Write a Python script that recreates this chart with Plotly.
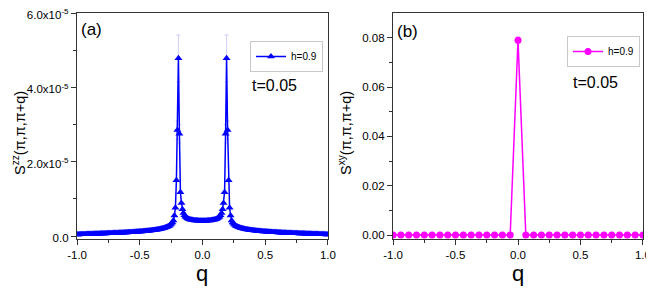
import plotly.graph_objects as go

# ---------------- data ----------------
# panel (a): q grid -1..1, step 0.008 (251 points); values in units of 1e-5
q_a_start, q_a_step, n_a = -1.0, 0.008, 251
szz_left = [  # q = -1.000 ... 0.000
    0.041, 0.042, 0.043, 0.044, 0.045, 0.046, 0.047, 0.048, 0.049, 0.050,
    0.051, 0.052, 0.053, 0.054, 0.055, 0.056, 0.057, 0.058, 0.059, 0.060,
    0.061, 0.062, 0.063, 0.064, 0.065, 0.066, 0.067, 0.068, 0.069, 0.070,
    0.071, 0.072, 0.073, 0.074, 0.075, 0.077, 0.078, 0.079, 0.080, 0.081,
    0.082, 0.084, 0.085, 0.086, 0.088, 0.089, 0.090, 0.092, 0.093, 0.095,
    0.096, 0.098, 0.099, 0.101, 0.103, 0.104, 0.106, 0.108, 0.110, 0.112,
    0.114, 0.116, 0.118, 0.120, 0.122, 0.124, 0.127, 0.129, 0.132, 0.134,
    0.137, 0.140, 0.143, 0.146, 0.149, 0.153, 0.156, 0.160, 0.164, 0.168,
    0.173, 0.178, 0.183, 0.189, 0.195, 0.202, 0.209, 0.217, 0.226, 0.236,
    0.248, 0.262, 0.279, 0.300, 0.328, 0.365, 0.420, 0.550, 0.760, 1.500,
    2.850, 4.780, 2.750, 1.180, 0.890, 0.720, 0.620, 0.560, 0.520, 0.495,
    0.475, 0.460, 0.450, 0.440, 0.435, 0.430, 0.425, 0.420, 0.418, 0.416,
    0.414, 0.412, 0.411, 0.410, 0.410, 0.410,
]
szz_right = [  # q = 0.008 ... 1.000
    0.410, 0.410, 0.411, 0.412, 0.414, 0.416, 0.418, 0.420, 0.425, 0.430,
    0.435, 0.440, 0.450, 0.460, 0.475, 0.495, 0.520, 0.560, 0.620, 0.720,
    0.890, 1.180, 2.750, 4.780, 2.850, 1.500, 0.760, 0.550, 0.420, 0.365,
    0.328, 0.300, 0.279, 0.262, 0.248, 0.236, 0.226, 0.217, 0.209, 0.202,
    0.195, 0.189, 0.183, 0.178, 0.173, 0.168, 0.164, 0.160, 0.156, 0.153,
    0.149, 0.146, 0.143, 0.140, 0.137, 0.134, 0.132, 0.129, 0.127, 0.124,
    0.122, 0.120, 0.118, 0.116, 0.114, 0.112, 0.110, 0.108, 0.106, 0.104,
    0.103, 0.101, 0.099, 0.098, 0.096, 0.095, 0.093, 0.092, 0.090, 0.089,
    0.088, 0.086, 0.085, 0.084, 0.082, 0.081, 0.080, 0.079, 0.078, 0.077,
    0.075, 0.074, 0.073, 0.072, 0.071, 0.070, 0.069, 0.068, 0.067, 0.066,
    0.065, 0.064, 0.063, 0.062, 0.061, 0.060, 0.059, 0.058, 0.057, 0.056,
    0.055, 0.054, 0.053, 0.052, 0.051, 0.050, 0.049, 0.048, 0.047, 0.046,
    0.045, 0.044, 0.043, 0.042, 0.041,
]
# error bars (units 1e-5) at the peak points: index -> error
szz_err_points = {100: 0.25, 101: 0.63, 102: 0.25, 148: 0.25, 149: 0.63, 150: 0.25}

# panel (b): q grid -1..1, step 0.0625 (33 points)
q_b_start, q_b_step, n_b = -1.0, 0.0625, 33
sxy = [0.0] * 16 + [0.079] + [0.0] * 16
sxy_err = [0.0] * 16 + [0.0015] + [0.0] * 16

y_a_ticks = [0.0, 2.0e-5, 4.0e-5, 6.0e-5]
y_a_ticktext = ["0.0", "2.0x10<sup>-5</sup>", "4.0x10<sup>-5</sup>", "6.0x10<sup>-5</sup>"]
y_b_ticks = [0.0, 0.02, 0.04, 0.06, 0.08]
y_b_ticktext = ["0.00", "0.02", "0.04", "0.06", "0.08"]
x_ticks = [-1.0, -0.5, 0.0, 0.5, 1.0]
x_ticktext = ["-1.0", "-0.5", "0.0", "0.5", "1.0"]

# ---------------- build ----------------
q_a = [round(q_a_start + q_a_step * k, 4) for k in range(n_a)]
szz = [v * 1e-5 for v in szz_left + szz_right]
szz_err = [szz_err_points.get(k, 0.0) * 1e-5 for k in range(n_a)]
q_b = [round(q_b_start + q_b_step * j, 4) for j in range(n_b)]

BLUE = "#0000FF"
MAG = "#FF00FF"
FONT = "Liberation Sans, Arial, sans-serif"
# the page body has an 8px default margin: size the figure so it fits the 654x297 window
OFF = 8
W, H = 654 - OFF, 297 - 2 * OFF

def px_x(x):  # reference window pixel -> paper fraction
    return (x - OFF) / W

def px_y(y):
    return 1 - (y - OFF) / H

xa_dom = [px_x(77), px_x(328)]
xb_dom = [px_x(393), px_x(643)]
y_dom = [px_y(239), px_y(13)]
ya_range = [-0.0807e-5, 6.0005e-5]
yb_range = [-0.0016, 0.0900]
x_range = [-1.0005, 1.0005]

fig = go.Figure()
fig.add_trace(go.Scatter(
    x=q_a, y=szz, mode="lines+markers", name="h=0.9",
    line=dict(color=BLUE, width=1.5),
    marker=dict(symbol="triangle-up", size=7, color=BLUE),
    error_y=dict(type="data", array=szz_err, visible=True, color="rgba(120,120,255,0.35)", thickness=1, width=2),
    xaxis="x", yaxis="y", legend="legend",
))
fig.add_trace(go.Scatter(
    x=q_b, y=sxy, mode="lines+markers", name="h=0.9",
    line=dict(color=MAG, width=1.5),
    marker=dict(symbol="circle", size=7, color=MAG),
    error_y=dict(type="data", array=sxy_err, visible=True, color="rgba(255,120,255,0.4)", thickness=1, width=2),
    xaxis="x2", yaxis="y2", legend="legend2",
))

axis_line = dict(showline=True, linecolor="#333333", linewidth=1.3, showgrid=False, zeroline=False,
                 automargin=False)
tickfont = dict(family=FONT, size=11.5, color="#000000")

def main_x(dom, anchor):
    return dict(domain=dom, anchor=anchor, range=x_range, tickmode="array", tickvals=x_ticks,
                ticktext=x_ticktext, ticks="outside", ticklen=5, tickwidth=1, tickcolor="#333333",
                minor=dict(tickvals=[-0.75, -0.25, 0.25, 0.75], ticks="outside", ticklen=3, tickcolor="#333333"),
                mirror=True, tickfont=tickfont, ticklabeloverflow="allow", **axis_line)

def main_y(dom, anchor, rng, tv, tt, minor_vals, shift=0):
    return dict(domain=dom, anchor=anchor, range=rng, tickmode="array", tickvals=tv, ticktext=tt,
                ticks="outside", ticklen=5, tickwidth=1, tickcolor="#333333",
                minor=dict(tickvals=minor_vals, ticks="outside", ticklen=3, tickcolor="#333333"),
                mirror=True, tickfont=tickfont, ticklabeloverflow="allow", ticklabelshift=shift,
                **axis_line)

def mirror_x(over, anchor):
    return dict(overlaying=over, anchor=anchor, side="top", range=x_range, tickmode="array",
                tickvals=x_ticks, ticks="inside", ticklen=5, tickcolor="#333333", showticklabels=False,
                minor=dict(tickvals=[-0.75, -0.25, 0.25, 0.75], ticks="inside", ticklen=3, tickcolor="#333333"),
                showgrid=False, zeroline=False, showline=False, automargin=False)

def mirror_y(over, anchor, rng, tv, minor_vals):
    return dict(overlaying=over, anchor=anchor, side="right", range=rng, tickmode="array",
                tickvals=tv, ticks="inside", ticklen=5, tickcolor="#333333", showticklabels=False,
                minor=dict(tickvals=minor_vals, ticks="inside", ticklen=3, tickcolor="#333333"),
                showgrid=False, zeroline=False, showline=False, automargin=False)

ya_minor = [1e-5, 3e-5, 5e-5]
yb_minor = [0.01, 0.03, 0.05, 0.07]

fig.update_layout(
    width=W, height=H, margin=dict(l=0, r=0, t=0, b=0, autoexpand=False),
    paper_bgcolor="white", plot_bgcolor="white",
    font=dict(family=FONT, color="#000000"),
    xaxis=main_x(xa_dom, "y"),
    yaxis=main_y(y_dom, "x", ya_range, y_a_ticks, y_a_ticktext, ya_minor, shift=2),
    xaxis2=main_x(xb_dom, "y2"),
    yaxis2=main_y(y_dom, "x2", yb_range, y_b_ticks, y_b_ticktext, yb_minor),
    xaxis3=mirror_x("x", "y"),
    yaxis3=mirror_y("y", "x", ya_range, y_a_ticks, ya_minor),
    xaxis4=mirror_x("x2", "y2"),
    yaxis4=mirror_y("y2", "x2", yb_range, y_b_ticks, yb_minor),
    legend=dict(x=px_x(250), y=px_y(41), xanchor="left", yanchor="top", bgcolor="white",
                bordercolor="#c8c8c8", borderwidth=1, font=dict(family=FONT, size=10),
                itemwidth=30, tracegroupgap=0),
    legend2=dict(x=px_x(567), y=px_y(36), xanchor="left", yanchor="top", bgcolor="white",
                 bordercolor="#c8c8c8", borderwidth=1, font=dict(family=FONT, size=10),
                 itemwidth=30, tracegroupgap=0),
    showlegend=True,
)

ann = [
    dict(text="(a)", x=px_x(79), y=px_y(30), xanchor="left", yanchor="middle", font=dict(size=17)),
    dict(text="(b)", x=px_x(395), y=px_y(32), xanchor="left", yanchor="middle", font=dict(size=17)),
    dict(text="t=0.05", x=px_x(250), y=px_y(85), xanchor="left", yanchor="middle", font=dict(size=16)),
    dict(text="t=0.05", x=px_x(571), y=px_y(83), xanchor="left", yanchor="middle", font=dict(size=16)),
    dict(text="q", x=px_x(202), y=px_y(273), xanchor="center", yanchor="middle", font=dict(size=22)),
    dict(text="q", x=px_x(518), y=px_y(273), xanchor="center", yanchor="middle", font=dict(size=22)),
    dict(text="S<sup>zz</sup>(π,π,π+q)", x=px_x(19), y=px_y(133), xanchor="center", yanchor="middle",
         textangle=-90, font=dict(size=14.5)),
    dict(text="S<sup>xy</sup>(π,π,π+q)", x=px_x(345), y=px_y(133), xanchor="center", yanchor="middle",
         textangle=-90, font=dict(size=14.5)),
]
for a in ann:
    a.update(xref="paper", yref="paper", showarrow=False)
    a["font"].update(family=FONT, color="#000000")
fig.update_layout(annotations=ann)

fig.write_html("out.html")
